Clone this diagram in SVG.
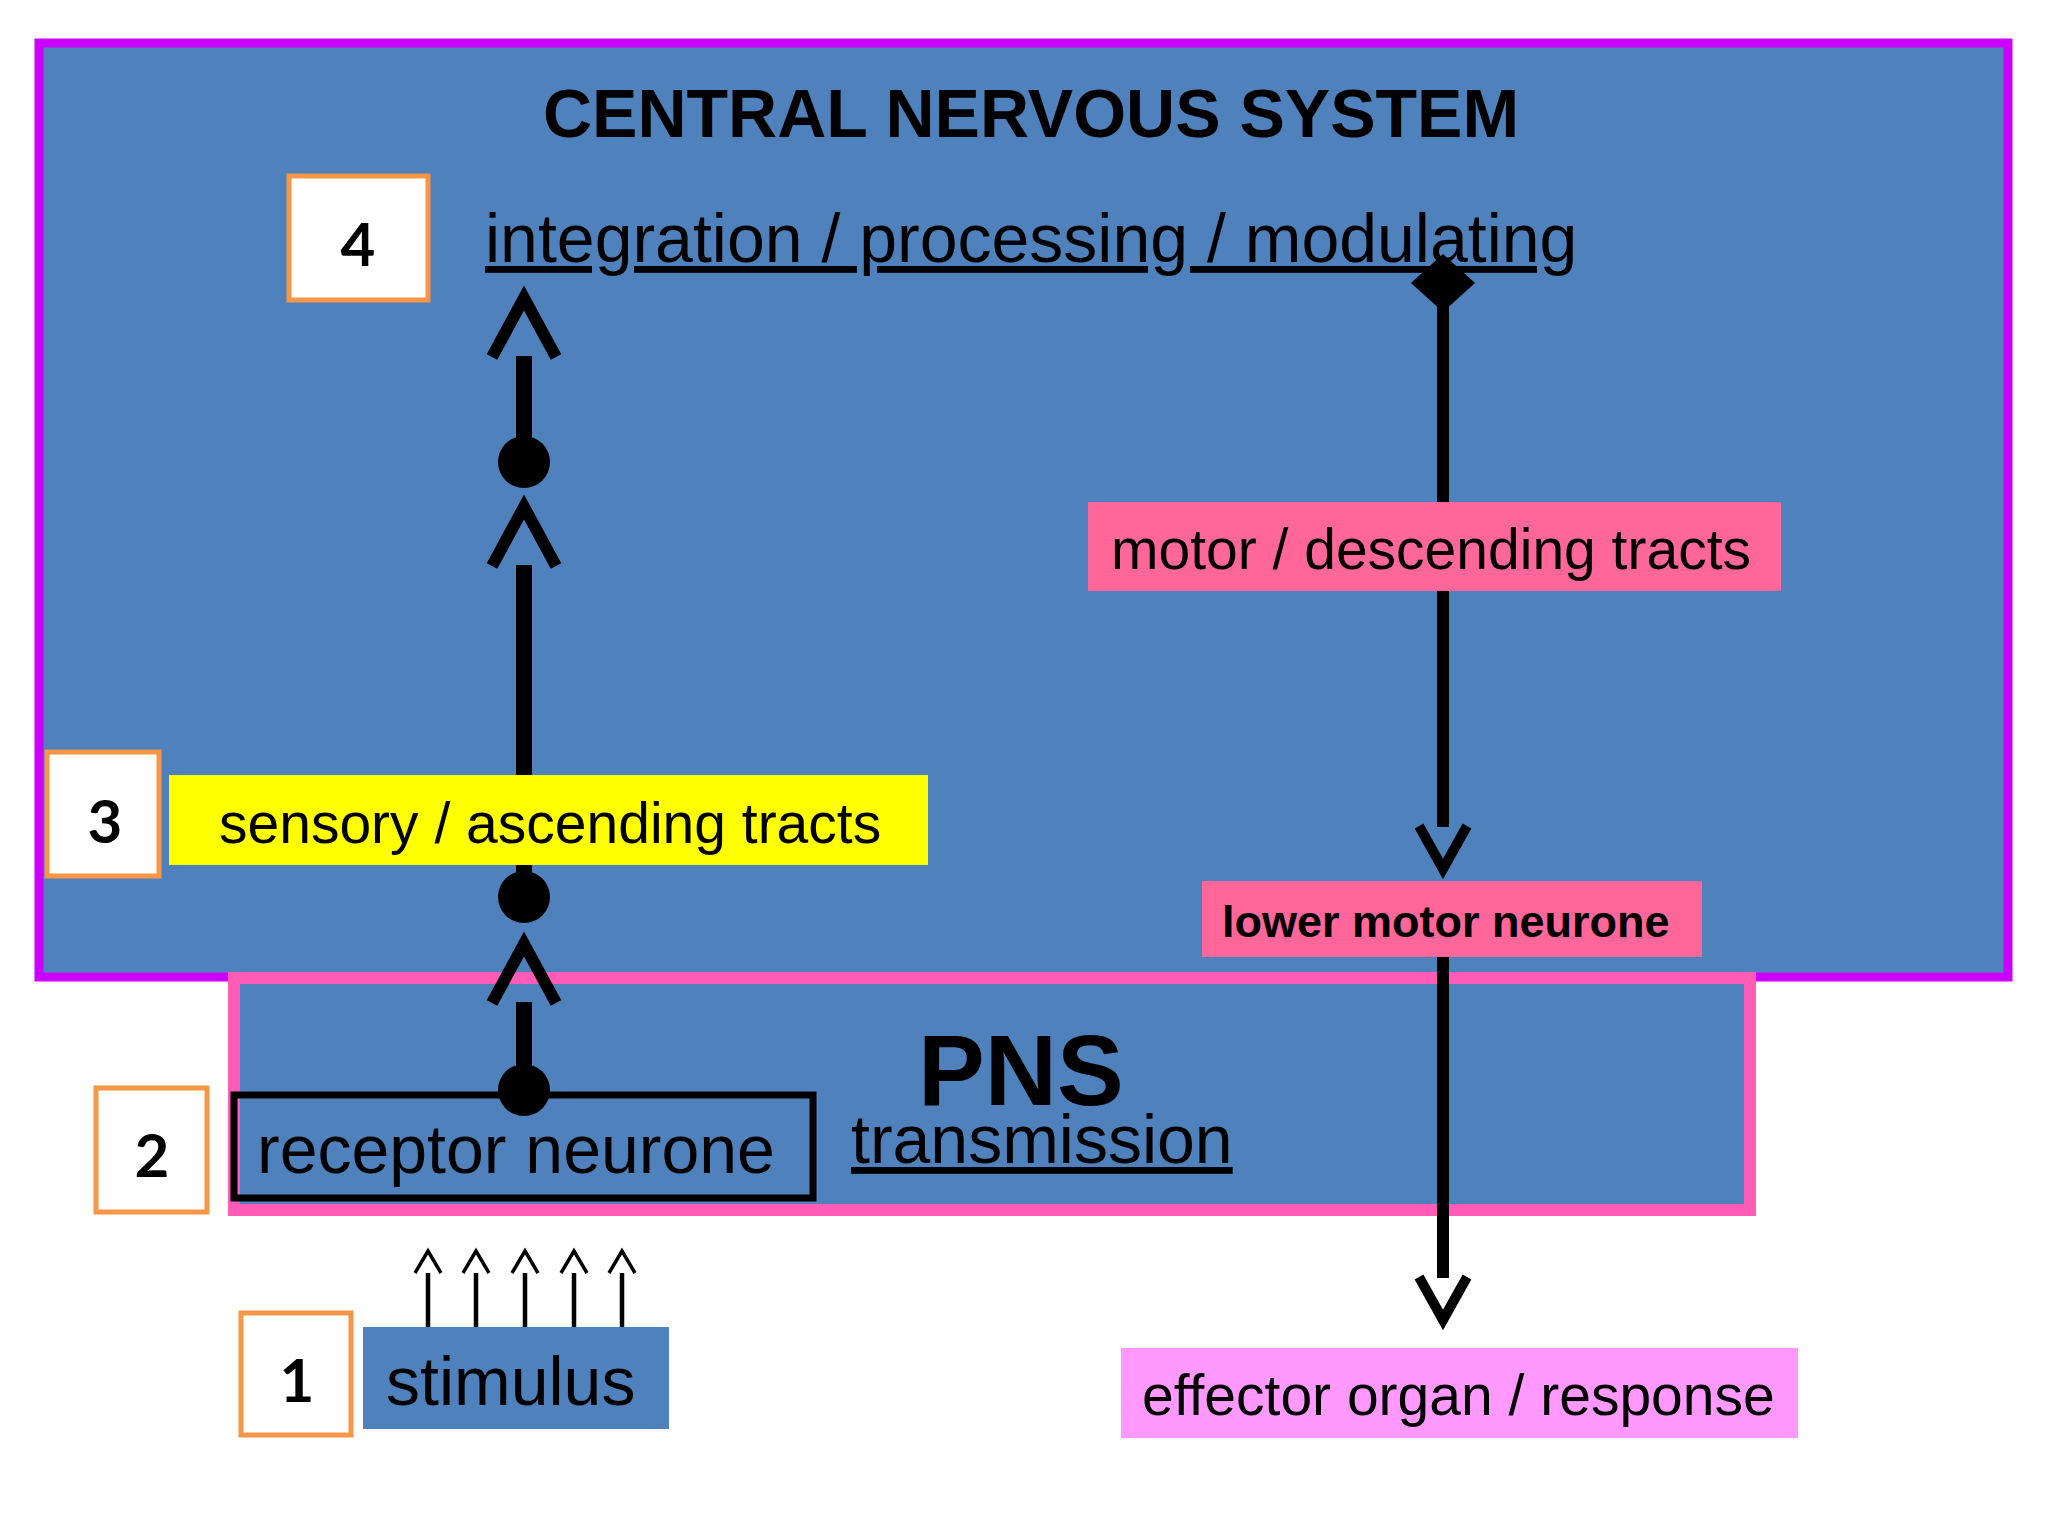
<svg xmlns="http://www.w3.org/2000/svg" width="2048" height="1536" viewBox="0 0 2048 1536">
<style>
  .lbl { font-family: "Liberation Sans", Arial, sans-serif; fill: #000; }
  .num { font-family: Lato, "Liberation Sans", sans-serif; font-weight: 700; font-size: 60px; fill: #000; text-anchor: middle; }
  .numbox { fill: #FFFFFF; stroke: #F79646; stroke-width: 5; }
  .wire { fill: none; stroke: #000; stroke-linecap: butt; }
  .u { text-decoration: underline; }
</style>
<defs>
  <marker id="dot" markerUnits="userSpaceOnUse" viewBox="-30 -30 60 60" refX="0" refY="0" markerWidth="60" markerHeight="60" orient="auto" overflow="visible">
    <circle cx="0" cy="0" r="26" fill="#000"/>
  </marker>
  <marker id="openArrowL" markerUnits="userSpaceOnUse" viewBox="-10 -40 90 80" refX="0" refY="0" markerWidth="90" markerHeight="80" orient="auto" overflow="visible">
    <path d="M -1,-32 L 58,0 L -1,32" fill="none" stroke="#000" stroke-width="12" stroke-linejoin="miter"/>
  </marker>
  <marker id="openArrowM" markerUnits="userSpaceOnUse" viewBox="-10 -30 70 60" refX="0" refY="0" markerWidth="70" markerHeight="60" orient="auto" overflow="visible">
    <path d="M -1,-24 L 42,0 L -1,24" fill="none" stroke="#000" stroke-width="10" stroke-linejoin="miter"/>
  </marker>
  <marker id="openArrowS" markerUnits="userSpaceOnUse" viewBox="-5 -17 35 34" refX="0" refY="0" markerWidth="35" markerHeight="34" orient="auto" overflow="visible">
    <path d="M 0,-13 L 22,0 L 0,13" fill="none" stroke="#000" stroke-width="3.5" stroke-linejoin="miter"/>
  </marker>
  <marker id="diamond" markerUnits="userSpaceOnUse" viewBox="-35 -35 70 70" refX="0" refY="0" markerWidth="70" markerHeight="70" orient="auto" overflow="visible">
    <path d="M -29,0 L 0,-32 L 29,0 L 0,32 Z" fill="#000"/>
  </marker>
</defs>

<rect x="0" y="0" width="2048" height="1536" fill="#FFFFFF"/>

<g id="cns">
  <rect x="39" y="43" width="1969" height="934" fill="#4F81BD" stroke="#CC00FF" stroke-width="9"/>
  <text class="lbl" x="1031" y="137" font-size="68" font-weight="700" text-anchor="middle">CENTRAL NERVOUS SYSTEM</text>
</g>

<g id="pns">
  <rect x="234" y="978" width="1516" height="232" fill="#4F81BD" stroke="#FF5BB7" stroke-width="12"/>
  <text class="lbl" x="918" y="1105" font-size="100" font-weight="700">PNS</text>
  <text class="lbl u" x="851" y="1163" font-size="68">transmission</text>
</g>

<g id="integration">
  <text class="lbl u" x="485" y="262" font-size="68">integration / processing / modulating</text>
</g>

<g id="receptor-neurone">
  <rect x="234" y="1095" width="579" height="103" fill="none" stroke="#000" stroke-width="7"/>
  <text class="lbl" x="257" y="1173" font-size="68">receptor neurone</text>
</g>

<g id="stimulus">
  <rect x="363" y="1327" width="306" height="102" fill="#4F81BD"/>
  <text class="lbl" x="386" y="1405" font-size="68">stimulus</text>
</g>

<g id="connectors">
  <path class="wire" d="M 524,1090 V 1002" stroke-width="16" marker-start="url(#dot)" marker-end="url(#openArrowL)"/>
  <path class="wire" d="M 524,897 V 565" stroke-width="16" marker-start="url(#dot)" marker-end="url(#openArrowL)"/>
  <path class="wire" d="M 524,462 V 356" stroke-width="16" marker-start="url(#dot)" marker-end="url(#openArrowL)"/>
  <path class="wire" d="M 1443,283 V 827" stroke-width="12" marker-start="url(#diamond)" marker-end="url(#openArrowM)"/>
  <path class="wire" d="M 1443,957 V 1278" stroke-width="12" marker-end="url(#openArrowM)"/>
  <path class="wire" d="M 428,1327 V 1273" stroke-width="4.5" marker-end="url(#openArrowS)"/>
  <path class="wire" d="M 476,1327 V 1273" stroke-width="4.5" marker-end="url(#openArrowS)"/>
  <path class="wire" d="M 525,1327 V 1273" stroke-width="4.5" marker-end="url(#openArrowS)"/>
  <path class="wire" d="M 574,1327 V 1273" stroke-width="4.5" marker-end="url(#openArrowS)"/>
  <path class="wire" d="M 622,1327 V 1273" stroke-width="4.5" marker-end="url(#openArrowS)"/>
</g>

<g id="sensory-tracts">
  <rect x="169" y="775" width="759" height="90" fill="#FFFF00"/>
  <text class="lbl" x="219" y="843" font-size="57">sensory / ascending tracts</text>
</g>

<g id="motor-tracts">
  <rect x="1088" y="502" width="693" height="89" fill="#FF6699"/>
  <text class="lbl" x="1111" y="569" font-size="57">motor / descending tracts</text>
</g>

<g id="lower-motor-neurone">
  <rect x="1202" y="881" width="500" height="76" fill="#FF6699"/>
  <text class="lbl" x="1222" y="937" font-size="45" font-weight="700">lower motor neurone</text>
</g>

<g id="effector">
  <rect x="1121" y="1348" width="677" height="90" fill="#FF99FF"/>
  <text class="lbl" x="1142" y="1415" font-size="57">effector organ / response</text>
</g>

<g id="step-4">
  <rect class="numbox" x="289" y="176" width="139" height="124"/>
  <text class="num" x="358" y="266">4</text>
</g>
<g id="step-3">
  <rect class="numbox" x="47" y="752" width="112" height="124"/>
  <text class="num" x="105" y="843">3</text>
</g>
<g id="step-2">
  <rect class="numbox" x="96" y="1088" width="111" height="124"/>
  <text class="num" x="152" y="1177">2</text>
</g>
<g id="step-1">
  <rect class="numbox" x="241" y="1313" width="110" height="122"/>
  <text class="num" x="297" y="1402">1</text>
</g>
</svg>
